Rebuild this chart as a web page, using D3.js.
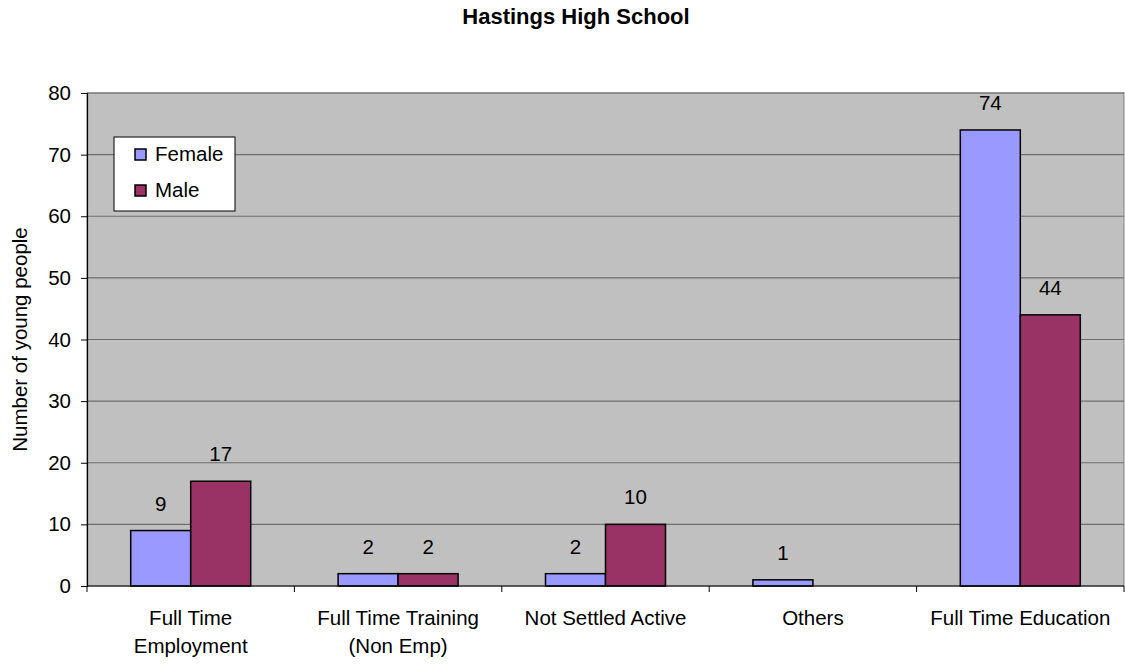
<!DOCTYPE html>
<html>
<head>
<meta charset="utf-8">
<script src="https://cdn.jsdelivr.net/npm/d3@7"></script>
<style>
  body { margin: 0; background: #fff; }
  text { font-family: "Liberation Sans", Arial, sans-serif; }
</style>
</head>
<body>
<script>
const categories = [["Full Time", "Employment"], ["Full Time Training", "(Non Emp)"], ["Not Settled Active"], ["Others"], ["Full Time Education"]]
const series = ["Female", "Male"]
const female = [9, 2, 2, 1, 74]
const male = [17, 2, 10, 0, 44]
const yTicks = [0, 10, 20, 30, 40, 50, 60, 70, 80]
const colors = ["#9999ff", "#993366"]

const width = 1125, height = 664
const margin = {top: 93, right: 1, bottom: 78, left: 87}
const fs = "20.5px"

const svg = d3.select("body").append("svg")
    .attr("width", width)
    .attr("height", height)

const x = d3.scaleBand()
    .domain(d3.range(categories.length))
    .range([margin.left, width - margin.right])
const y = d3.scaleLinear()
    .domain([0, 80])
    .range([height - margin.bottom, margin.top])

// plot background
svg.append("rect")
    .attr("x", margin.left).attr("y", margin.top)
    .attr("width", width - margin.left - margin.right)
    .attr("height", height - margin.top - margin.bottom)
    .attr("fill", "#c0c0c0")
    .attr("stroke", "#808080")

// grid lines
svg.selectAll(".grid")
    .data(yTicks.slice(1)).enter()
    .append("line")
    .attr("x1", margin.left).attr("x2", width - margin.right)
    .attr("y1", d => y(d)).attr("y2", d => y(d))
    .attr("stroke", "#6e6e6e")
    .attr("stroke-width", 1.2)

const inner = d3.scaleBand().domain(series).range([0, 120])
const pad = (x.bandwidth() - 120) / 2

const data = []
categories.forEach((c, i) => {
    data.push({i: i, s: "Female", v: female[i]})
    if (male[i] > 0) data.push({i: i, s: "Male", v: male[i]})
})

svg.selectAll(".bar")
    .data(data).enter()
    .append("rect")
    .attr("x", d => x(d.i) + pad + inner(d.s))
    .attr("y", d => y(d.v))
    .attr("width", inner.bandwidth())
    .attr("height", d => y(0) - y(d.v))
    .attr("fill", d => colors[series.indexOf(d.s)])
    .attr("stroke", "#000")
    .attr("stroke-width", 1.5)

svg.selectAll(".val")
    .data(data).enter()
    .append("text")
    .attr("x", d => x(d.i) + pad + inner(d.s) + inner.bandwidth() / 2)
    .attr("y", d => y(d.v) - 20)
    .attr("text-anchor", "middle")
    .attr("font-size", fs)
    .attr("fill", "#000")
    .text(d => d.v)

// y axis
const yAxis = d3.axisLeft(y).tickValues(yTicks).tickSize(6).tickPadding(10)
const gy = svg.append("g")
    .attr("transform", "translate(" + margin.left + ",0)")
    .call(yAxis)
gy.select(".domain").attr("stroke", "#000").attr("stroke-width", 1.2)
gy.selectAll(".tick line").attr("stroke", "#000")
gy.selectAll(".tick text").attr("font-size", fs).attr("fill", "#000")
    .style("font-family", "Liberation Sans, Arial, sans-serif")

// x axis
svg.append("line")
    .attr("x1", margin.left).attr("x2", width - margin.right)
    .attr("y1", y(0)).attr("y2", y(0))
    .attr("stroke", "#000").attr("stroke-width", 1.2)
svg.selectAll(".xtick")
    .data(d3.range(categories.length + 1)).enter()
    .append("line")
    .attr("x1", d => margin.left + d * x.step())
    .attr("x2", d => margin.left + d * x.step())
    .attr("y1", y(0)).attr("y2", y(0) + 6)
    .attr("stroke", "#000")

const xl = svg.selectAll(".xlab")
    .data(categories).enter()
    .append("text")
    .attr("text-anchor", "middle")
    .attr("font-size", fs)
    .attr("fill", "#000")
xl.each(function(c, i) {
    c.forEach((line, j) => {
        d3.select(this).append("tspan")
            .attr("x", x(i) + x.bandwidth() / 2)
            .attr("y", y(0) + 39 + j * 28)
            .text(line)
    })
})

// y label
svg.append("text")
    .attr("transform", "translate(27," + (margin.top + (y(0) - margin.top) / 2) + ") rotate(-90)")
    .attr("text-anchor", "middle")
    .attr("font-size", fs)
    .text("Number of young people")

// title
svg.append("text")
    .attr("x", 576).attr("y", 24)
    .attr("text-anchor", "middle")
    .attr("font-size", "22px")
    .attr("font-weight", "bold")
    .text("Hastings High School")

// legend
const lg = svg.append("g").attr("transform", "translate(114,137)")
lg.append("rect")
    .attr("width", 121).attr("height", 74)
    .attr("fill", "#fff").attr("stroke", "#000")
series.forEach((s, i) => {
    lg.append("rect")
        .attr("x", 21).attr("y", 12 + i * 36)
        .attr("width", 11).attr("height", 11)
        .attr("fill", colors[i]).attr("stroke", "#000").attr("stroke-width", 1.5)
    lg.append("text")
        .attr("x", 41).attr("y", 24 + i * 36)
        .attr("font-size", fs)
        .text(s)
})
</script>
</body>
</html>
